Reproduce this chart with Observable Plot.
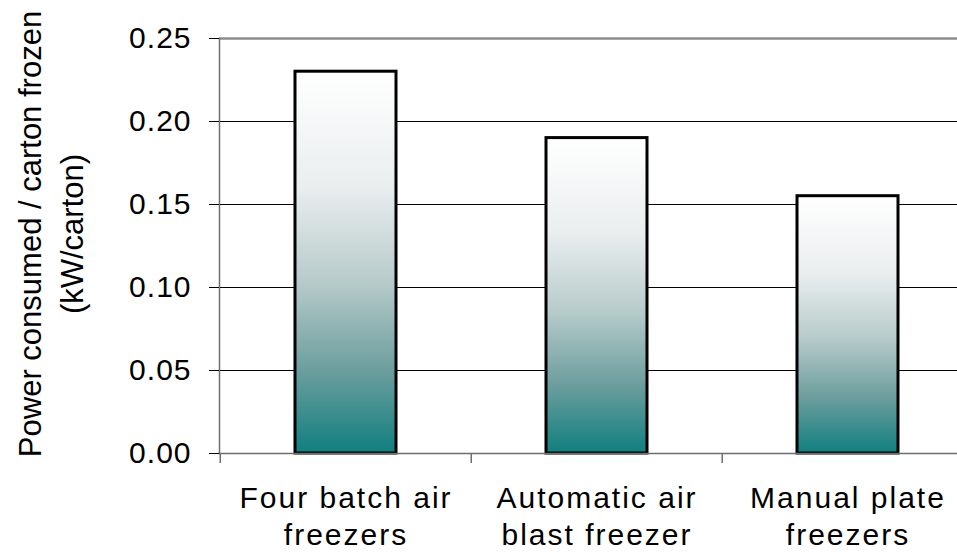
<!DOCTYPE html>
<html>
<head>
<meta charset="utf-8">
<script src="https://cdn.jsdelivr.net/npm/d3@7"></script>
<script src="https://cdn.jsdelivr.net/npm/@observablehq/plot@0.6"></script>
<style>
  html, body { margin: 0; padding: 0; background: #fff; overflow: hidden; }
  #chart svg { font-family: "Liberation Sans", Arial, sans-serif; overflow: hidden; }
  #chart g[aria-label="x-axis tick label"] text { letter-spacing: 2px; }
  #chart g[aria-label="y-axis tick label"] text { letter-spacing: 1px; }
</style>
</head>
<body>
<div id="chart"></div>
<script>
const categories = ["Four batch air\nfreezers", "Automatic air\nblast freezer", "Manual plate\nfreezers"];
const values = [0.23, 0.19, 0.155];
const yTicks = [0, 0.05, 0.10, 0.15, 0.20, 0.25];
const yTitle = "Power consumed / carton frozen\n(kW/carton)";

const data = categories.map((c, i) => ({cat: c, value: values[i]}));
const band = (973.5 - 219) / categories.length;

const plot = Plot.plot({
  width: 957,
  height: 558,
  marginLeft: 219,
  marginRight: 0,
  marginTop: 38,
  marginBottom: 105,
  style: {background: "#fff", color: "#000"},
  x: {domain: categories, range: [219, 973.5], padding: 0},
  y: {domain: [0, 0.25]},
  marks: [
    Plot.ruleY(yTicks.filter(d => d > 0 && d < 0.25), {y: d => d, stroke: "#000", strokeWidth: 1}),
    Plot.ruleY([0.25], {y: d => d, stroke: "#8c8c8c", strokeWidth: 2.5}),
    Plot.barY(data, {x: "cat", y: "value", fill: "url(#tealGrad)", stroke: "#000", strokeWidth: 3, insetLeft: 75, insetRight: 75}),
    Plot.frame({anchor: "left", stroke: "#6e6e6e", strokeWidth: 1.5}),
    Plot.frame({anchor: "bottom", stroke: "#6e6e6e", strokeWidth: 1.5}),
    Plot.ruleX(categories, {x: d => d, y1: 0, y2: -0.006, dx: -band / 2, stroke: "#6e6e6e", strokeWidth: 1.5}),
    Plot.axisY({ticks: yTicks, tickFormat: d3.format(".2f"), tickSize: 10, tickPadding: 18, fontSize: 30, label: null, stroke: "#000"}),
    Plot.axisX({tickSize: 0, tickPadding: 28, fontSize: 30, lineHeight: 1.23, label: null}),
    Plot.text([yTitle], {text: d => d, frameAnchor: "left", textAnchor: "middle", rotate: -90, dx: -171, dy: -12, fontSize: 31, lineHeight: 1.36, fill: "#000"})
  ]
});

const svg = d3.select(plot);
const defs = svg.insert("defs", ":first-child");
const g = defs.append("linearGradient").attr("id", "tealGrad")
  .attr("x1", 0).attr("y1", 0).attr("x2", 0).attr("y2", 1);
[[0, "#ffffff"], [0.3, "#eaeeef"], [0.55, "#b8cbcb"], [0.78, "#6e9e9e"], [1, "#117f7f"]]
  .forEach(([o, c]) => g.append("stop").attr("offset", o).attr("stop-color", c));

document.getElementById("chart").appendChild(plot);
</script>
</body>
</html>
